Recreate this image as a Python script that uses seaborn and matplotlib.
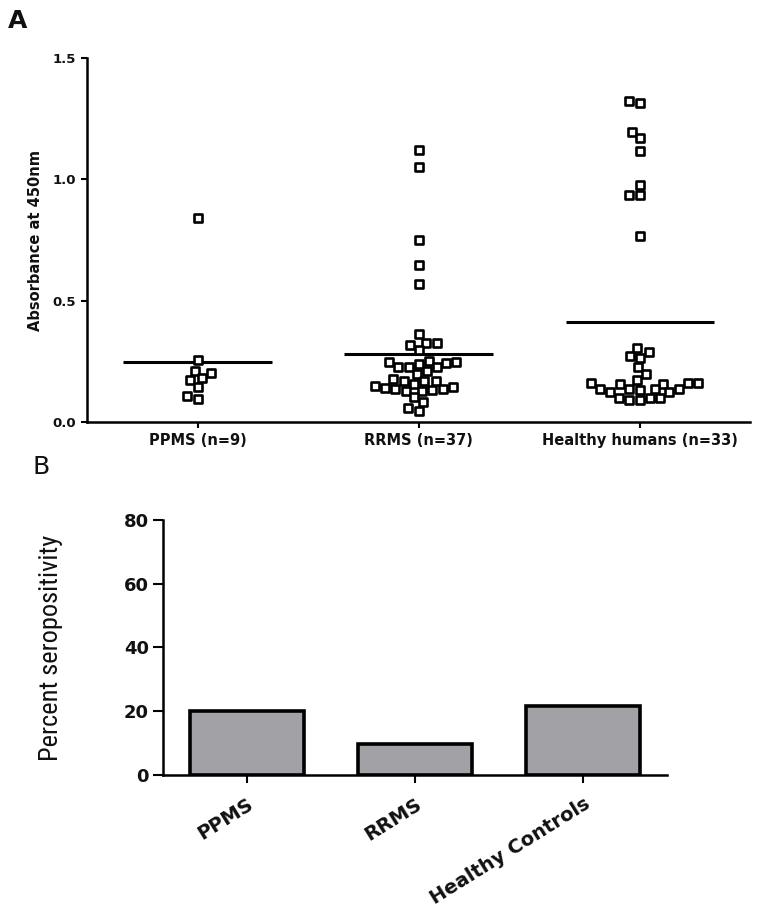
import numpy as np
import pandas as pd
import matplotlib
matplotlib.use("Agg")
import matplotlib.pyplot as plt
from matplotlib import font_manager
import seaborn as sns

# ---------------- data ----------------
groups = ["PPMS (n=9)", "RRMS (n=37)", "Healthy humans (n=33)"]

ppms = [0.839, 0.255, 0.211, 0.203, 0.181, 0.173, 0.144, 0.107, 0.095]

rrms = [1.121, 1.049, 0.750, 0.647, 0.567,
        0.363, 0.325, 0.318, 0.325, 0.297,
        0.247, 0.241, 0.242, 0.249, 0.253,
        0.227, 0.225, 0.225, 0.211, 0.198,
        0.157, 0.170, 0.170, 0.170, 0.176,
        0.146, 0.148, 0.136, 0.128, 0.128, 0.136,
        0.132, 0.139,
        0.084, 0.102, 0.047, 0.056]

healthy = [1.324, 1.316, 1.196, 1.169, 1.117, 0.977, 0.935, 0.935, 0.768,
           0.304, 0.290, 0.273, 0.265, 0.225, 0.197, 0.173,
           0.160, 0.158, 0.157, 0.159, 0.161,
           0.137, 0.135, 0.135, 0.137, 0.133,
           0.122, 0.122, 0.099, 0.099, 0.091, 0.091, 0.098]

y_ticks_top = [0.0, 0.5, 1.0, 1.5]

bar_labels = ["PPMS", "RRMS", "Healthy Controls"]
bar_values = [20.0, 9.7, 21.6]
y_ticks_bottom = [0, 20, 40, 60, 80]

# ---------------- style ----------------
sns.set_theme(style="ticks")
plt.rcParams['font.family'] = ['DejaVu Sans']
TXT = "#111111"

names = {f.name for f in font_manager.fontManager.ttflist}
if "Liberation Sans Narrow" in names:
    narrow = dict(family=["Liberation Sans Narrow", "DejaVu Sans"], size=21)
elif "Roboto Condensed" in names:
    narrow = dict(family=["Roboto Condensed", "DejaVu Sans"], size=19)
else:
    narrow = dict(family=["Liberation Sans", "DejaVu Sans"], size=16.5)

fig = plt.figure(figsize=(7.81, 9.24), dpi=100)

# ---------------- panel A ----------------
ax1 = fig.add_axes([0.1114, 0.5433, 0.849, 0.3939])
values_by_group = [ppms, rrms, healthy]
df = pd.DataFrame({
    "group": np.repeat(groups, [len(v) for v in values_by_group]),
    "value": np.concatenate(values_by_group),
})
sns.swarmplot(data=df, x="group", y="value", order=groups, marker="s",
              size=5.3, color="white", edgecolor="black", linewidth=1.9,
              ax=ax1, zorder=3)
means = df.groupby("group", sort=False)["value"].mean().reindex(groups)
for i, m in enumerate(means.values):
    ax1.hlines(m, i - 0.335, i + 0.335, color="black", lw=2.2, zorder=2)

ax1.set_xlim(-0.5, 2.5)
ax1.set_ylim(0, 1.5)
ax1.set_yticks(y_ticks_top)
ax1.set_yticklabels([f"{t:.1f}" for t in y_ticks_top])
ax1.set_xlabel("")
ax1.set_ylabel("Absorbance at 450nm", fontsize=10.5, fontweight="bold",
               color=TXT, labelpad=7)
for s in ["top", "right"]:
    ax1.spines[s].set_visible(False)
for s in ["left", "bottom"]:
    ax1.spines[s].set_linewidth(1.8)
    ax1.spines[s].set_color("black")
ax1.tick_params(axis="both", length=4, width=1.5, color="black",
                labelcolor=TXT, pad=4)
for lab in ax1.get_yticklabels():
    lab.set_fontsize(9.5)
    lab.set_fontweight("bold")
for lab in ax1.get_xticklabels():
    lab.set_fontsize(10.5)
    lab.set_fontweight("bold")

# ---------------- panel B ----------------
ax2 = fig.add_axes([0.2087, 0.1613, 0.6453, 0.2760])
sns.barplot(x=bar_labels, y=bar_values, color="#a2a2a6", saturation=1,
            edgecolor="black", linewidth=2.6, width=0.675, ax=ax2)
ax2.set_xlim(-0.5, 2.5)
ax2.set_ylim(0, 80)
ax2.set_yticks(y_ticks_bottom)
ax2.set_ylabel("Percent seropositivity", color=TXT, labelpad=44,
               fontproperties=font_manager.FontProperties(**narrow))
for s in ["top", "right"]:
    ax2.spines[s].set_visible(False)
for s in ["left", "bottom"]:
    ax2.spines[s].set_linewidth(1.8)
    ax2.spines[s].set_color("black")
ax2.tick_params(axis="y", length=7, width=1.5, color="black",
                labelcolor=TXT, pad=3)
ax2.tick_params(axis="x", length=6, width=1.5, color="black",
                labelcolor=TXT, pad=8)
for lab in ax2.get_yticklabels():
    lab.set_fontsize(13)
    lab.set_fontweight("bold")
for lab in ax2.get_xticklabels():
    lab.set_fontsize(14)
    lab.set_fontweight("bold")
    lab.set_rotation(32)
    lab.set_ha("right")
    lab.set_va("top")
    lab.set_rotation_mode("anchor")

# ---------------- panel letters ----------------
fig.text(0.010, 0.990, "A", fontsize=18, fontweight="bold", color=TXT,
         va="top", ha="left")
fig.text(0.041, 0.508, "B", fontsize=18, color=TXT, va="top", ha="left")

fig.savefig("out.png", dpi=100, facecolor="white")
